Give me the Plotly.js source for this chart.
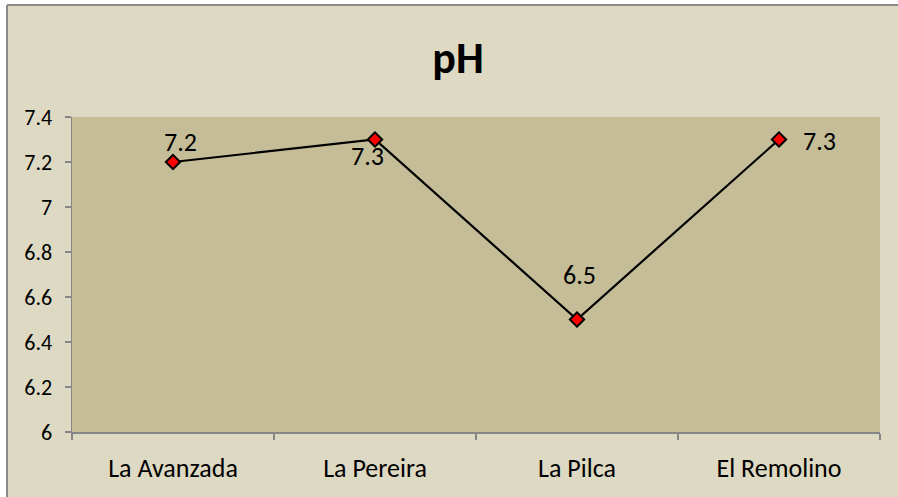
<!DOCTYPE html>
<html>
<head>
<meta charset="utf-8">
<script src="https://cdn.plot.ly/plotly-3.0.1.min.js"></script>
<style>html,body{margin:0;padding:0;background:#fff;}#chart{width:898px;height:497px;}</style>
</head>
<body>
<div id="chart"></div>
<script>
const categories = ["La Avanzada", "La Pereira", "La Pilca", "El Remolino"];
const phValues = [7.2, 7.3, 6.5, 7.3];
const labelText = ["7.2", "7.3", "6.5", "7.3"];
const yTicks = [6, 6.2, 6.4, 6.6, 6.8, 7, 7.2, 7.4];
const yTickText = ["6", "6.2", "6.4", "6.6", "6.8", "7", "7.2", "7.4"];
// label offsets in pixels (style only)
const labelDX = [7, -8, 2, 40];
const labelDY = [20, -16, 45, -1];

const FONT = "Carlito, Lato, 'Open Sans', sans-serif";

const trace = {
  x: categories,
  y: phValues,
  type: "scatter",
  mode: "lines+markers",
  line: {color: "#000000", width: 2.2},
  marker: {symbol: "diamond", color: "#ff0000", size: 11, line: {color: "#000000", width: 2}},
  hoverinfo: "skip"
};

const annotations = categories.map((c, i) => ({
  x: c, y: phValues[i], xref: "x", yref: "y",
  text: labelText[i], showarrow: false,
  xshift: labelDX[i], yshift: labelDY[i],
  font: {family: FONT, size: 26, color: "#000000"}
}));

const PW = 808, PH = 315;
const layout = {
  width: 898, height: 497,
  margin: {l: 72, r: 18, t: 117, b: 65},
  paper_bgcolor: "#ddd9c3",
  plot_bgcolor: "#c4bd97",
  showlegend: false,
  font: {family: FONT, color: "#000000"},
  title: {text: "<b>pH</b>", font: {family: FONT, size: 44, color: "#000000"}, x: 0.51, xanchor: "center", y: 0.885, yanchor: "middle"},
  xaxis: {
    type: "category",
    range: [-0.5, 3.5],
    showgrid: false, zeroline: false,
    showline: true, linecolor: "#868686", linewidth: 1.5,
    ticks: "outside", tickson: "boundaries", ticklen: 6, tickcolor: "#868686", tickwidth: 1.5,
    tickfont: {family: FONT, size: 26, color: "#000000"},
    ticklabelstandoff: 12
  },
  yaxis: {
    range: [6, 7.4],
    tickvals: yTicks, ticktext: yTickText,
    showgrid: false, zeroline: false,
    showline: true, linecolor: "#868686", linewidth: 1.5,
    ticks: "outside", ticklen: 6, tickcolor: "#868686", tickwidth: 1.5,
    tickfont: {family: FONT, size: 22, color: "#000000"},
    ticklabelstandoff: 8
  },
  annotations: annotations,
  shapes: [
    {type: "rect", xref: "paper", yref: "paper", layer: "below",
     x0: -72/PW, x1: -65/PW, y0: -65/PH, y1: 1 + 117/PH,
     fillcolor: "#ffffff", line: {width: 0}},
    {type: "rect", xref: "paper", yref: "paper", layer: "below",
     x0: -72/PW, x1: 1 + 18/PW, y0: 1 + 112/PH, y1: 1 + 117/PH,
     fillcolor: "#ffffff", line: {width: 0}},
    {type: "line", xref: "paper", yref: "paper", layer: "above",
     x0: -65/PW, x1: 1 + 18/PW, y0: 1 + 112/PH, y1: 1 + 112/PH,
     line: {color: "#8a8a8a", width: 2}},
    {type: "line", xref: "paper", yref: "paper", layer: "above",
     x0: -65/PW, x1: -65/PW, y0: -65/PH, y1: 1 + 112/PH,
     line: {color: "#8a8a8a", width: 2}}
  ]
};

Plotly.newPlot("chart", [trace], layout, {displayModeBar: false, staticPlot: true});
</script>
</body>
</html>
